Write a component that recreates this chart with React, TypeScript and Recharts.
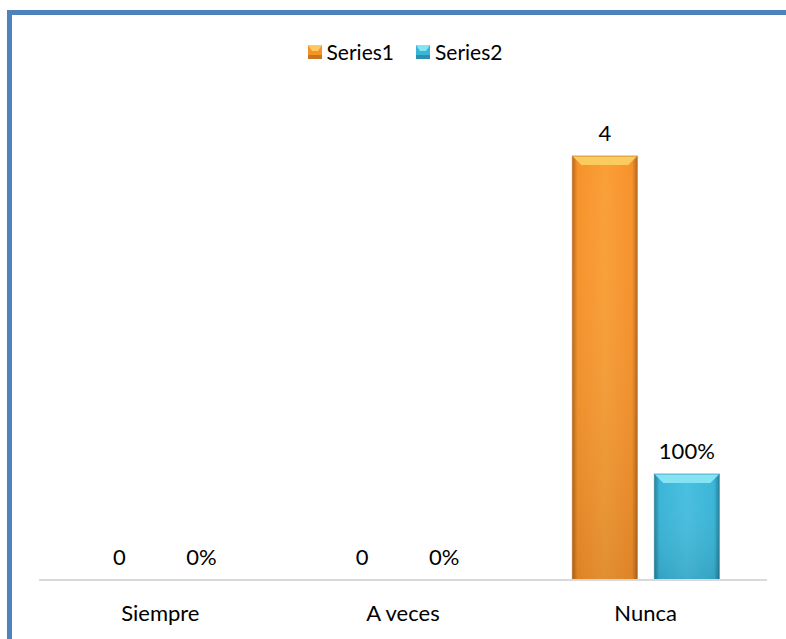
import React from 'react';
import { BarChart, Bar, XAxis, YAxis, Legend, LabelList } from 'recharts';

const categories = ['Siempre', 'A veces', 'Nunca'];
const series1 = [0, 0, 4];
const series2 = [0, 0, 1];

const FONT = 'Lato, "Open Sans", sans-serif';

const palette: Record<string, { main: string; light: string; dark: string; top: string }> = {
  s1: { main: '#F7922A', light: '#FA9F38', dark: '#B8681A', top: '#FCCB5E' },
  s2: { main: '#39B5D8', light: '#48BFE0', dark: '#23809B', top: '#86E3F4' },
};

const data = categories.map((name, i) => ({
  name,
  Series1: series1[i],
  Series2: series2[i],
}));

function Defs() {
  return (
    <defs>
      {Object.entries(palette).map(([k, c]) => (
        <React.Fragment key={k}>
          <linearGradient id={`h-${k}`} x1="0" y1="0" x2="1" y2="0">
            <stop offset="0%" stopColor={c.dark} />
            <stop offset="8%" stopColor={c.main} />
            <stop offset="50%" stopColor={c.light} />
            <stop offset="92%" stopColor={c.main} />
            <stop offset="100%" stopColor={c.dark} />
          </linearGradient>
          <linearGradient id={`v-${k}`} x1="0" y1="0" x2="0" y2="1">
            <stop offset="0%" stopColor="#fff" stopOpacity={0} />
            <stop offset="100%" stopColor="#000" stopOpacity={0.1} />
          </linearGradient>
        </React.Fragment>
      ))}
    </defs>
  );
}

function BevelBar(props: any) {
  const { x, y, width, height, k } = props;
  if (!height || height <= 0) return null;
  const c = palette[k];
  const b = Math.min(9, height / 2);
  return (
    <g>
      <rect x={x} y={y} width={width} height={height} fill={`url(#h-${k})`} />
      <rect x={x} y={y} width={width} height={height} fill={`url(#v-${k})`} />
      <polygon
        points={`${x},${y} ${x + width},${y} ${x + width - b},${y + b} ${x + b},${y + b}`}
        fill={c.top}
      />
      <rect x={x} y={y} width={width} height={height} fill="none" stroke={c.dark} strokeOpacity={0.6} strokeWidth={1} />
    </g>
  );
}

function LegendContent() {
  const items = [
    { label: 'Series1', k: 's1' },
    { label: 'Series2', k: 's2' },
  ];
  return (
    <div style={{ display: 'flex', justifyContent: 'center', alignItems: 'center', fontFamily: FONT, fontSize: 21, color: '#000' }}>
      {items.map((it, i) => {
        const c = palette[it.k];
        return (
          <div key={it.label} style={{ display: 'flex', alignItems: 'center', marginLeft: i ? 22 : 0 }}>
            <svg width={14} height={14} style={{ marginRight: 5 }}>
              <rect x={0} y={0} width={14} height={14} fill={c.main} />
              <polygon points="0,0 14,0 10,6 4,6" fill={c.top} />
              <rect x={0} y={10} width={14} height={4} fill={c.dark} opacity={0.7} />
            </svg>
            <span>{it.label}</span>
          </div>
        );
      })}
    </div>
  );
}

export default function App() {
  return (
    <div style={{ position: 'fixed', left: 0, top: 0, width: 786, height: 639, overflow: 'hidden', background: '#fff' }}>
      <div
        style={{
          position: 'absolute',
          left: 7,
          top: 10,
          width: 900,
          height: 800,
          borderTop: '5px solid #4F81BD',
          borderLeft: '5px solid #4F81BD',
        }}
      />
      <div style={{ position: 'absolute', left: 0, top: 0 }}>
        <BarChart
          width={786}
          height={639}
          data={data}
          margin={{ top: 103, right: 19, left: 39, bottom: 0 }}
          barSize={65}
          barGap={17}
        >
          <Defs />
          <XAxis
            dataKey="name"
            height={59}
            axisLine={{ stroke: '#D9D9D9', strokeWidth: 2 }}
            tickLine={false}
            tickMargin={19}
            tick={{ fill: '#000', fontSize: 22, fontFamily: FONT }}
          />
          <YAxis hide domain={[0, 4.5]} />
          <Legend verticalAlign="middle" content={<LegendContent />} wrapperStyle={{ top: 39, left: 12, width: 786 }} />
          <Bar dataKey="Series1" fill="#F7922A" isAnimationActive={false} shape={(p: any) => <BevelBar {...p} k="s1" />}>
            <LabelList dataKey="Series1" position="top" offset={15} fill="#000" fontSize={22} fontFamily={FONT} />
          </Bar>
          <Bar dataKey="Series2" fill="#39B5D8" isAnimationActive={false} shape={(p: any) => <BevelBar {...p} k="s2" />}>
            <LabelList
              dataKey="Series2"
              position="top"
              offset={15}
              fill="#000"
              fontSize={22}
              fontFamily={FONT}
              formatter={(v: any) => `${Math.round(Number(v) * 100)}%`}
            />
          </Bar>
        </BarChart>
      </div>
    </div>
  );
}
